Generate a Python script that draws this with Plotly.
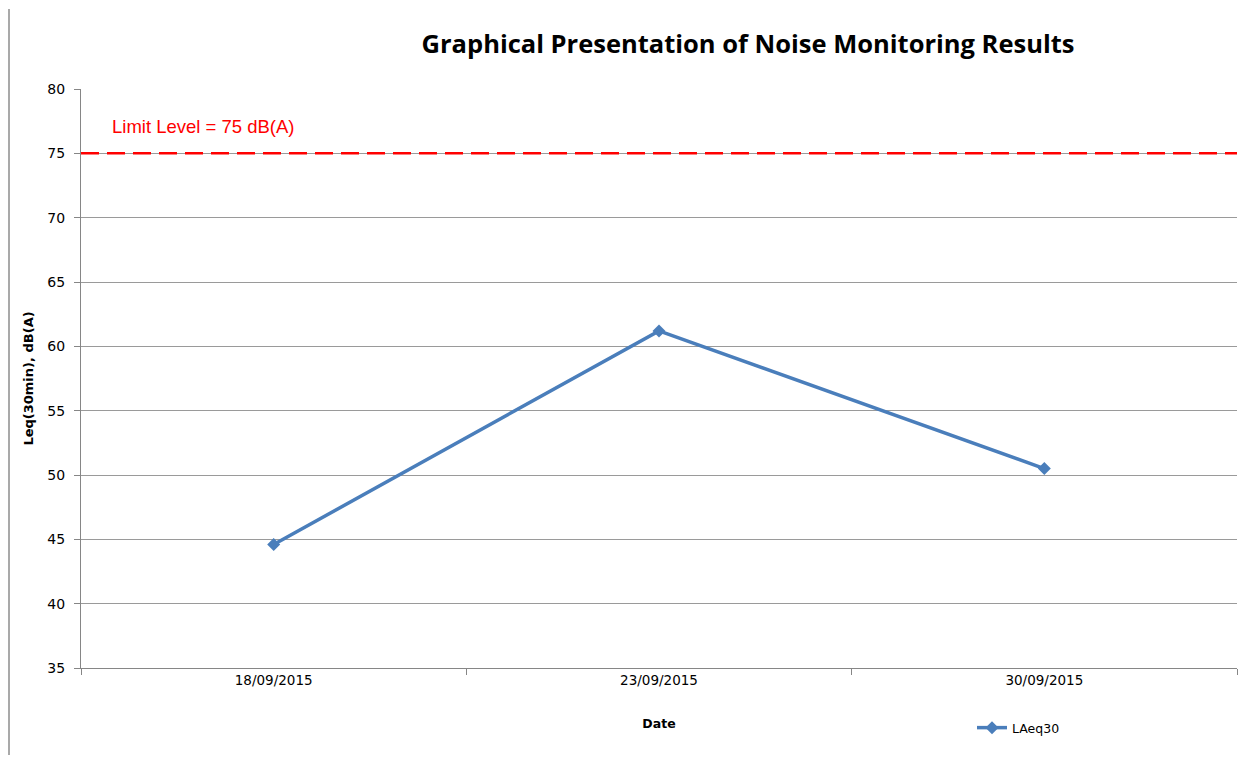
import plotly.graph_objects as go

dates = ["18/09/2015", "23/09/2015", "30/09/2015"]
laeq30 = [44.6, 61.2, 50.5]
limit_level = 75
limit_label = "Limit Level = 75 dB(A)"
series_name = "LAeq30"

OFF = 8  # page body margin
W, H = 1233, 748
L, T = 81 - OFF, 89 - OFF
pw, ph = 1156, 579
R = W - L - pw
B = H - T - ph

fig = go.Figure()
fig.add_trace(go.Scatter(
    x=dates, y=laeq30, mode="lines+markers", name=series_name,
    line=dict(color="#4a7ebb", width=3.5),
    marker=dict(symbol="diamond", size=10, color="#4a7ebb"),
))

fig.add_hline(y=limit_level, line=dict(color="#ff0000", width=2.5, dash="18px,8px"))
fig.add_annotation(x=(110 - 81) / pw, xref="paper", y=77.1, yref="y",
                   text=limit_label, showarrow=False, xanchor="left", yanchor="middle",
                   font=dict(family="Liberation Sans, Arial", size=18.5, color="#ff0000"))

# chart border (left edge)
fig.add_shape(type="line", xref="paper", yref="paper",
              x0=(9 - 81) / pw, x1=(9 - 81) / pw, y0=-(B - 1) / ph, y1=(T - 1) / ph + 1,
              line=dict(color="#8c8c8c", width=1.5))

fig.update_layout(
    width=W, height=H,
    margin=dict(l=L, r=R, t=T, b=B),
    paper_bgcolor="white", plot_bgcolor="white",
    title=dict(text="<b>Graphical Presentation of Noise Monitoring Results</b>",
               x=(748 - OFF) / W, xref="container", xanchor="center",
               y=1 - (44 - OFF) / H, yref="container", yanchor="middle",
               font=dict(family="Open Sans, Liberation Sans", size=25.5, color="black")),
    xaxis=dict(type="category", tickson="boundaries", ticks="outside", ticklen=6,
               tickcolor="#868686", showline=True, linecolor="#868686", linewidth=1,
               showgrid=False, range=[-0.5, 2.5],
               tickfont=dict(family="DejaVu Sans, Tahoma", size=13.5, color="black"),
               title=dict(text="<b>Date</b>", standoff=32,
                          font=dict(family="DejaVu Sans, Tahoma", size=12.5, color="black"))),
    yaxis=dict(range=[35, 80], dtick=5, ticks="outside", ticklen=6, tickcolor="#868686",
               showline=True, linecolor="#868686", linewidth=1,
               showgrid=True, gridcolor="#9a9a9a", gridwidth=1, zeroline=False,
               ticklabelstandoff=6,
               tickfont=dict(family="DejaVu Sans, Tahoma", size=14, color="black"),
               title=dict(text="<b>Leq(30min), dB(A)</b>", standoff=10,
                          font=dict(family="DejaVu Sans, Tahoma", size=13, color="black"))),
    showlegend=True,
    legend=dict(x=(972 - 81) / pw, xanchor="left", y=-(728 - 668) / ph, yanchor="middle",
                orientation="h", bgcolor="rgba(0,0,0,0)",
                font=dict(family="DejaVu Sans, Tahoma", size=12.5, color="black")),
)

fig.write_html("out.html")
